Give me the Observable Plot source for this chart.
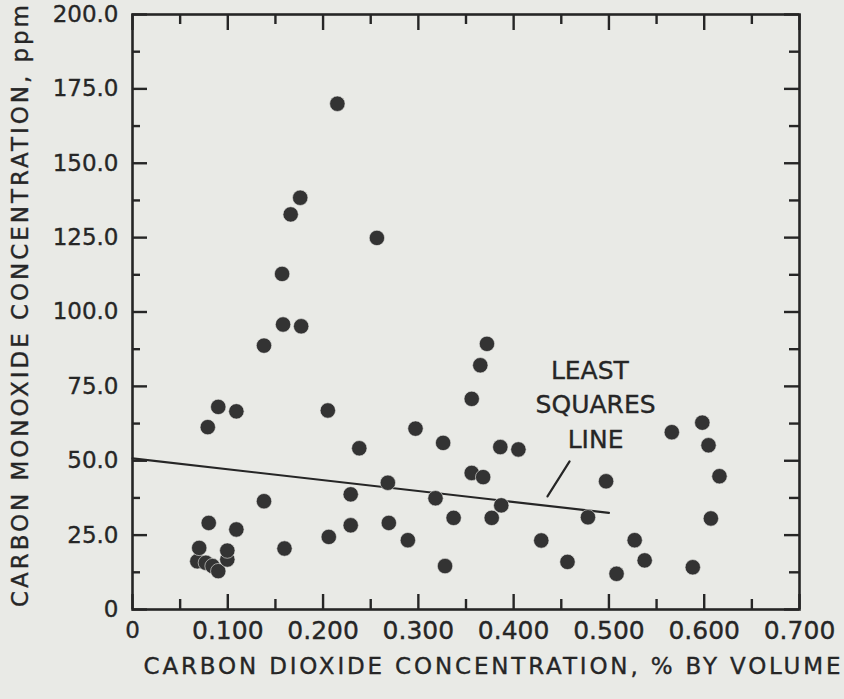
<!DOCTYPE html>
<html>
<head>
<meta charset="utf-8">
<script src="https://cdn.jsdelivr.net/npm/d3@7"></script>
<script src="https://cdn.jsdelivr.net/npm/@observablehq/plot@0.6"></script>
<style>
  html, body { margin: 0; padding: 0; background: #e9eae6; }
  #chart svg { display: block; }
  #chart svg text { stroke: #262626; stroke-width: 0.35px; }
</style>
</head>
<body>
<div id="chart"></div>
<script>
// CO2 concentration (% by volume)
const co2 = [
  0.068, 0.070, 0.077, 0.084, 0.090, 0.0995, 0.0995, 0.080, 0.109, 0.079,
  0.090, 0.109, 0.138, 0.138, 0.1595, 0.157, 0.158, 0.177, 0.166, 0.176,
  0.215, 0.205, 0.206, 0.229, 0.229, 0.238, 0.2565, 0.268, 0.269, 0.289,
  0.297, 0.318, 0.326, 0.328, 0.337, 0.356, 0.356, 0.365, 0.368, 0.372,
  0.377, 0.386, 0.387, 0.405, 0.429, 0.4565, 0.478, 0.497, 0.508, 0.527,
  0.5375, 0.566, 0.588, 0.598, 0.6045, 0.607, 0.616
];
// CO concentration (ppm)
const co = [
  16.2, 20.7, 15.7, 14.6, 12.9, 16.8, 19.8, 29.1, 26.9, 61.3,
  68.1, 66.6, 36.4, 88.7, 20.5, 112.8, 95.8, 95.2, 132.8, 138.4,
  170.0, 66.9, 24.4, 38.7, 28.3, 54.2, 124.9, 42.6, 29.1, 23.3,
  60.8, 37.4, 56.0, 14.6, 30.8, 45.9, 70.8, 82.1, 44.5, 89.3,
  30.8, 54.6, 35.0, 53.8, 23.2, 16.0, 31.0, 43.1, 12.0, 23.3,
  16.5, 59.6, 14.2, 62.8, 55.2, 30.6, 44.8
];

// least squares line end points
const lsqX = [0, 0.5];
const lsqY = [50.8, 32.5];
// annotation pointer
const ptrX = [0.4355, 0.4587];
const ptrY = [38.0, 49.8];
// annotation text
const noteText = ["LEAST", "SQUARES", "LINE"];
const noteX = [0.480, 0.486, 0.486];
const noteY = [80.1, 68.9, 57.1];

// ticks
const xTickValues = [0, 0.1, 0.2, 0.3, 0.4, 0.5, 0.6, 0.7];
const xTickLabels = ["0", "0.100", "0.200", "0.300", "0.400", "0.500", "0.600", "0.700"];
const xMinorTicks = [0.05, 0.15, 0.25, 0.35, 0.45, 0.55, 0.65];
const yTickValues = [0, 25, 50, 75, 100, 125, 150, 175, 200];
const yTickLabels = ["0", "25.0", "50.0", "75.0", "100.0", "125.0", "150.0", "175.0", "200.0"];
const yMinorTicks = [12.5, 37.5, 62.5, 87.5, 112.5, 137.5, 162.5, 187.5];

const xTitle = "CARBON DIOXIDE CONCENTRATION, % BY VOLUME";
const yTitle = "CARBON MONOXIDE CONCENTRATION, ppm";

const points = co2.map((x, i) => ({x, y: co[i]}));
const lsq = lsqX.map((x, i) => ({x, y: lsqY[i]}));
const ptr = ptrX.map((x, i) => ({x, y: ptrY[i]}));
const notes = noteText.map((t, i) => ({t, x: noteX[i], y: noteY[i]}));

const W = 844, H = 699;
const mL = 132, mR = 45, mT = 14, mB = 90;
const fw = W - mL - mR, fh = H - mT - mB;
const ink = "#262626";
const tw = 2.4;

const chart = Plot.plot({
  width: W,
  height: H,
  marginLeft: mL,
  marginRight: mR,
  marginTop: mT,
  marginBottom: mB,
  style: {background: "#e9eae6", color: "#262626", fontFamily: "'DejaVu Sans', sans-serif", fontSize: "23px"},
  x: {
    domain: [0, 0.7],
    ticks: xTickValues,
    tickFormat: d => xTickLabels[xTickValues.indexOf(d)],
    tickSize: 0,
    tickPadding: 12,
    label: null
  },
  y: {
    domain: [0, 200],
    ticks: yTickValues,
    tickFormat: d => yTickLabels[yTickValues.indexOf(d)],
    tickSize: 0,
    tickPadding: 14,
    label: null
  },
  marks: [
    Plot.frame({stroke: ink, strokeWidth: 2.6}),
    // bottom ticks
    Plot.tickX(xTickValues, {x: d => d, insetTop: fh - 15, stroke: ink, strokeWidth: tw}),
    Plot.tickX(xMinorTicks, {x: d => d, insetTop: fh - 10, stroke: ink, strokeWidth: tw}),
    // top ticks
    Plot.tickX(xTickValues, {x: d => d, insetBottom: fh - 16, stroke: ink, strokeWidth: tw}),
    Plot.tickX(xMinorTicks, {x: d => d, insetBottom: fh - 10, stroke: ink, strokeWidth: tw}),
    // left ticks
    Plot.tickY(yTickValues, {y: d => d, insetRight: fw - 15, stroke: ink, strokeWidth: tw}),
    Plot.tickY(yMinorTicks, {y: d => d, insetRight: fw - 8, stroke: ink, strokeWidth: tw}),
    // right ticks
    Plot.tickY(yTickValues, {y: d => d, insetLeft: fw - 15, stroke: ink, strokeWidth: tw}),
    Plot.tickY(yMinorTicks, {y: d => d, insetLeft: fw - 10, stroke: ink, strokeWidth: tw}),
    // least squares line and pointer
    Plot.line(lsq, {x: "x", y: "y", stroke: ink, strokeWidth: 2.2}),
    Plot.line(ptr, {x: "x", y: "y", stroke: ink, strokeWidth: 2.2}),
    Plot.text(notes, {x: "x", y: "y", text: "t", fontSize: 25, fill: "#262626", textAnchor: "middle"}),
    // data points
    Plot.dot(points, {x: "x", y: "y", r: 7.7, fill: "#333333", stroke: "#e9eae6", strokeWidth: 0.6}),
    // axis titles
    Plot.text([xTitle], {frameAnchor: "bottom", dx: 26, dy: 64, text: d => d, fontSize: 23, fill: "#262626", textAnchor: "middle"}),
    Plot.text([yTitle], {frameAnchor: "left", dx: -112, dy: -6, rotate: -90, text: d => d, fontSize: 23, fill: "#262626", textAnchor: "middle"})
  ]
});

// stretch the axis titles to their printed lengths, and size the x tick labels
d3.select(chart).selectAll("text").each(function() {
  const t = this.textContent;
  if (t === xTitle) d3.select(this).attr("textLength", 697).attr("lengthAdjust", "spacing");
  if (t === yTitle) d3.select(this).attr("textLength", 602).attr("lengthAdjust", "spacing");
  if (xTickLabels.includes(t) && t !== "0") d3.select(this).style("font-size", "25px");
});

document.getElementById("chart").appendChild(chart);
</script>
</body>
</html>
